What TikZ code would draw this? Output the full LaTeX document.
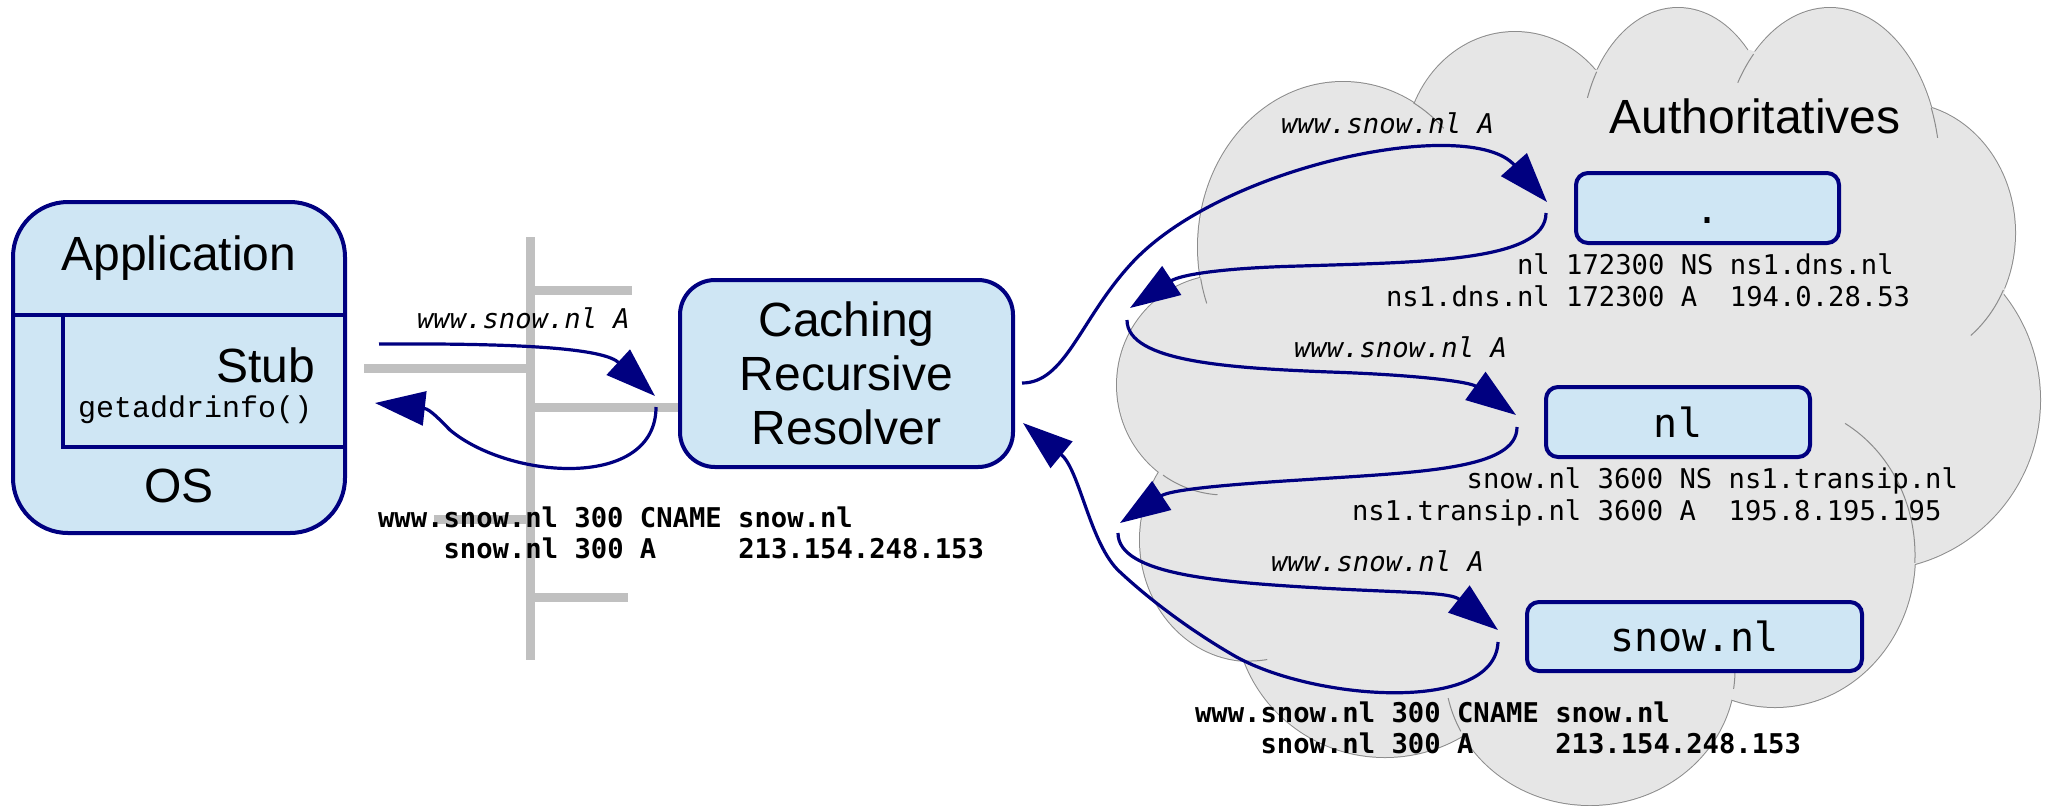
\documentclass[tikz,border=0pt]{standalone}
\usepackage{fontspec}
\setmainfont{Liberation Sans}
\newfontfamily\dnsmono{DejaVu Sans Mono}[ItalicFont={DejaVu Sans Mono Oblique},BoldFont={DejaVu Sans Mono Bold}]
\newfontfamily\apimono{Liberation Mono}
\usetikzlibrary{arrows.meta}
\definecolor{navyline}{RGB}{0,0,128}
\definecolor{boxfill}{RGB}{207,230,244}
\definecolor{cloudfill}{RGB}{230,230,230}
\definecolor{cloudline}{RGB}{140,140,140}
\definecolor{netgray}{RGB}{192,192,192}
\frenchspacing
\begin{document}
\begin{tikzpicture}[x=0.5pt,y=-0.5pt,
  every node/.style={inner sep=0pt,outer sep=0pt},
  bigsans/.style={font=\fontsize{24}{27}\selectfont},
  rec/.style={font=\dnsmono\fontsize{13.6}{16}\selectfont,anchor=base west},
  recbold/.style={font=\dnsmono\bfseries\fontsize{13.6}{16}\selectfont,anchor=base west},
  qlabel/.style={font=\dnsmono\itshape\fontsize{13.6}{16}\selectfont,anchor=base west},
  boxline/.style={draw=navyline,line width=2pt},
  authbox/.style={boxline,fill=boxfill,rounded corners=6pt,
    font=\dnsmono\fontsize{20}{24}\selectfont},
  netline/.style={draw=netgray,line width=4.5pt},
  qarrow/.style={draw=navyline,line width=1.6pt,-{Triangle[length=25pt,width=17pt]}},
  cloudedge/.style={draw=cloudline,line width=1pt},
  cloudstub/.style={draw=cloudline,line width=0.5pt}
]
\useasboundingbox (0,0) rectangle (2045,805);
\fill[white] (0,0) rectangle (2045,805);

% ---- cloud of authoritative servers: lobes as overlapping ellipses ----
\def\lobes{1343/247/145/165, 1515/153/110/121, 1678/148/97/140,
  1830/172/110/164, 1900/233/115/130, 1870/400/170/170,
  1775/555/140/152, 1590/670/145/135, 1385/610/150/147,
  1250/540/110/121, 1225/385/108/110}
\foreach \cx/\cy/\rx/\ry in \lobes
  \draw[cloudedge] (\cx,\cy) ellipse [x radius=\rx,y radius=\ry];
\foreach \cx/\cy/\rx/\ry in \lobes
  \fill[cloudfill] (\cx,\cy) ellipse [x radius=\rx,y radius=\ry];
\fill[cloudfill] (1200,279) -- (1415,105) -- (1595,70) -- (1750,50)
  -- (1932,108) -- (2005,290) -- (1913,562) -- (1727,673)
  -- (1467,727) -- (1243,660) -- (1160,470) -- cycle;
% short inner arcs where one lobe runs into the next
\foreach \cx/\cy/\rx/\ry/\a/\b in {1343/247/145/165/169/160,
  1343/247/145/165/-61/-46, 1678/148/97/140/213/201,
  1830/172/110/164/226/213, 1830/172/110/164/-23/-12,
  1900/233/115/130/26/52, 1775/555/140/152/3/-60,
  1590/670/145/135/153/168, 1590/670/145/135/8/-3,
  1250/540/110/121/94/81, 1225/385/108/110/125/94}
  \draw[cloudstub] (\cx,\cy) ++({\rx*cos(\a)},{\ry*sin(\a)})
    arc[start angle=\a,end angle=\b,x radius=\rx,y radius=\ry];

% ---- local network ----
\draw[netline] (530,237) -- (530,660);
\draw[netline] (530,290) -- (632,290);
\draw[netline] (364,368) -- (530,368);
\draw[netline] (530,407) -- (680,407);
\draw[netline] (434,519) -- (530,519);
\draw[netline] (530,597) -- (628,597);

% ---- host: application and OS with stub resolver ----
\draw[boxline,fill=boxfill,rounded corners=27.5pt] (13,202) rectangle (345,533);
\draw[boxline] (13,315) -- (345,315);
\draw[boxline] (63,315) -- (63,447) -- (345,447);
\node[bigsans,anchor=base] (app) at (179,270) {Application};
\node[bigsans,anchor=base east] (stub) at (315,382) {Stub};
\node[font=\apimono\fontsize{15}{18}\selectfont,anchor=base west] (gai) at (78,417) {getaddrinfo()};
\node[bigsans,anchor=base] (os) at (179,502) {OS};

% ---- caching recursive resolver ----
\node[boxline,fill=boxfill,rounded corners=17.5pt,minimum width=166.5pt,
  minimum height=93.5pt,align=center,bigsans] (resolver) at (846.5,373.5)
  {Caching\\Recursive\\Resolver};

% ---- authoritative servers ----
\node[bigsans,anchor=base] (auth) at (1755,133) {Authoritatives};
\node[authbox,minimum width=131.5pt,minimum height=35pt] (root) at (1707.5,208) {\vphantom{l}.};
\node[authbox,minimum width=132pt,minimum height=35pt] (tld) at (1678,422) {\vphantom{l}nl};
\node[authbox,minimum width=167.5pt,minimum height=34.5pt] (sld) at (1694.5,636.5) {\vphantom{l}snow.nl};

% ---- records ----
\node[rec] (rootrec1) at (1386,274) {\hphantom{ns1.dns.}nl 172300 NS ns1.dns.nl};
\node[rec] (rootrec2) at (1386,306) {ns1.dns.nl 172300 A\ \ 194.0.28.53};
\node[rec] (tldrec1) at (1352,488) {\hphantom{ns1.tra}snow.nl 3600 NS ns1.transip.nl};
\node[rec] (tldrec2) at (1352,520) {ns1.transip.nl 3600 A\ \ 195.8.195.195};
\node[recbold] (ans1) at (1195,722) {www.snow.nl 300 CNAME snow.nl};
\node[recbold] (ans2) at (1195,753) {\hphantom{www.}snow.nl 300 A\ \ \ \ \ 213.154.248.153};
\node[recbold] (stubans1) at (378,527) {www.snow.nl 300 CNAME snow.nl};
\node[recbold] (stubans2) at (378,558) {\hphantom{www.}snow.nl 300 A\ \ \ \ \ 213.154.248.153};

% ---- queries ----
\node[qlabel] (q1) at (417,328) {www.snow.nl A};
\node[qlabel] (q2) at (1281,133) {www.snow.nl A};
\node[qlabel] (q3) at (1294,357) {www.snow.nl A};
\node[qlabel] (q4) at (1271,571) {www.snow.nl A};

% ---- message flow ----
\coordinate (stubout) at (379,344);
\coordinate (resin) at (655,396);
\coordinate (resout) at (656,407);
\coordinate (stubin) at (375,403);
\coordinate (resq) at (1022,383);
\coordinate (rootin) at (1547,202);
\coordinate (rootout) at (1546,213);
\coordinate (back1) at (1130,308);
\coordinate (fwd1) at (1127,320);
\coordinate (tldin) at (1516,415);
\coordinate (tldout) at (1517,427);
\coordinate (back2) at (1120,523);
\coordinate (fwd2) at (1118,533);
\coordinate (sldin) at (1498,630);
\coordinate (sldout) at (1498,642);
\coordinate (resans) at (1023,423);

\draw[qarrow] (stubout) .. controls (540,343) and (605,350) .. (resin);
\draw[qarrow] (resout) .. controls (656,490) and (510,480) .. (450,430)
  .. controls (440,420) and (430,409) .. (stubin);
\draw[qarrow] (resq) .. controls (1065,383) and (1080,320) .. (1130,265)
  .. controls (1220,165) and (1470,115) .. (rootin);
\draw[qarrow] (rootout) .. controls (1546,262) and (1420,262) .. (1300,266)
  .. controls (1220,268) and (1180,275) .. (back1);
\draw[qarrow] (fwd1) .. controls (1127,362) and (1230,368) .. (1330,372)
  .. controls (1420,375) and (1470,382) .. (tldin);
\draw[qarrow] (tldout) .. controls (1517,470) and (1420,472) .. (1300,480)
  .. controls (1220,485) and (1170,490) .. (back2);
\draw[qarrow] (fwd2) .. controls (1118,575) and (1220,582) .. (1320,588)
  .. controls (1410,593) and (1450,592) .. (sldin);
\draw[qarrow] (sldout) .. controls (1495,715) and (1310,700) .. (1233,655)
  .. controls (1190,630) and (1150,600) .. (1120,572)
  .. controls (1090,545) and (1080,470) .. (resans);
\end{tikzpicture}
\end{document}
